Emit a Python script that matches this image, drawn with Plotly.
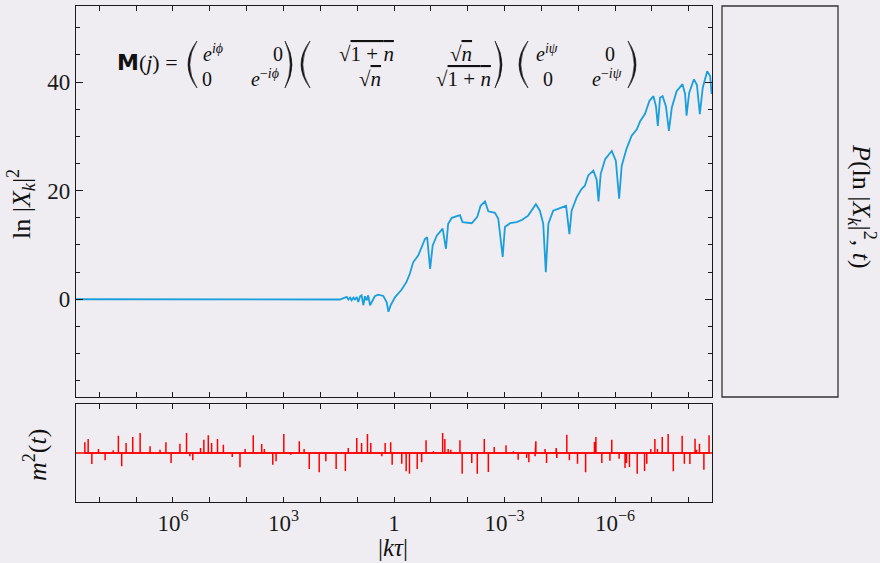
import numpy as np
import plotly.graph_objects as go

# ---------------- data ----------------
# log10 |k tau| and ln|X_k|^2 for the blue curve
blue_exp = [8.70, 2.55, 2.01, 1.60, 1.47,
            1.28, 1.24, 1.19, 1.15, 1.10,
            1.06, 1.01, 0.97, 0.92, 0.88,
            0.83, 0.79, 0.74, 0.70, 0.65,
            0.61, 0.52, 0.43, 0.29, 0.20,
            0.15, 0.09, -0.03, -0.21, -0.34,
            -0.43, -0.52, -0.66, -0.84, -0.90,
            -0.98, -1.05, -1.16, -1.32, -1.41,
            -1.47, -1.57, -1.79, -1.86, -2.11,
            -2.26, -2.35, -2.47, -2.56, -2.74,
            -2.83, -2.95, -3.01, -3.15, -3.33,
            -3.47, -3.64, -3.85, -3.96, -4.05,
            -4.12, -4.19, -4.32, -4.67, -4.76,
            -4.82, -4.96, -5.09, -5.18, -5.27,
            -5.41, -5.50, -5.55, -5.61, -5.73,
            -5.91, -6.02, -6.11, -6.18, -6.31,
            -6.45, -6.59, -6.68, -6.81, -6.93,
            -7.04, -7.11, -7.16, -7.22, -7.29,
            -7.38, -7.46, -7.54, -7.67, -7.83,
            -7.90, -7.94, -8.01, -8.14, -8.22,
            -8.30, -8.38, -8.50, -8.58, -8.62]
blue_val = [0, 0, 0, 0.05, -0.05,
            0.43, -0.06, 0.3, -0.2, 0.3,
            -0.06, 0.43, -0.5, 0.55, 0.73,
            -1.1, 0.55, -0.2, 0.73, -1.1,
            -0.5, 0.55, 0.85, 0.6, -0.5,
            -2.3, -1.1, 0.4, 1.8, 3.2,
            4.7, 6.8, 8.1, 11.1, 11.4,
            5.6, 9.9, 11.7, 13.0, 9.3,
            13.9, 15.0, 15.5, 14.2, 14.0,
            15.2, 17.2, 18.0, 16.2, 15.9,
            14.8, 7.8, 13.3, 14.0, 14.2,
            14.6, 15.4, 17.5, 16.3, 13.9,
            5.0, 13.9, 16.3, 17.2, 12.0,
            16.3, 18.8, 20.3, 20.9, 22.8,
            23.7, 22.0, 18.0, 23.1, 25.8,
            27.3, 25.5, 18.5, 24.6, 27.7,
            30.1, 31.3, 32.8, 34.1, 36.5,
            37.4, 35.5, 31.9, 37.1, 37.4,
            35.5, 31.0, 35.3, 38.3, 39.6,
            37.8, 33.8, 38.0, 40.5, 39.5,
            34.1, 39.0, 42.0, 41.1, 37.8]

# log10 |k tau| and amplitude of the red m^2(t) spikes
spike_exp = [8.39, 8.30, 8.20, 8.02, 7.84, 7.62, 7.48, 7.39, 7.27, 7.09,
             6.89, 6.62, 6.35, 6.19, 6.05, 5.81, 5.63, 5.54, 5.46, 5.25,
             5.16, 5.04, 4.95, 4.79, 4.63, 4.39, 4.18, 4.04, 3.82, 3.59,
             3.52, 3.29, 3.20, 2.99, 2.80, 2.57, 2.44, 2.30, 2.03, 1.85,
             1.57, 1.32, 1.24, 1.01, 0.88, 0.72, 0.63, 0.33, 0.24, 0.09,
             0.05, -0.21, -0.33, -0.42, -0.63, -0.75, -0.87, -1.07, -1.32, -1.38,
             -1.47, -1.54, -1.79, -1.85, -2.11, -2.26, -2.45, -2.56, -2.72, -3.04,
             -3.24, -3.37, -3.60, -3.66, -3.83, -3.85, -4.10, -4.14, -4.40, -4.42,
             -4.69, -4.76, -4.98, -5.20, -5.44, -5.48, -5.64, -5.86, -5.91, -6.11,
             -6.27, -6.31, -6.39, -6.60, -6.80, -6.86, -6.97, -7.08, -7.15, -7.28,
             -7.44, -7.58, -7.82, -7.88, -8.03, -8.17, -8.21, -8.29, -8.41, -8.55]
spike_amp = [0.32, 0.42, -0.33, 0.12, -0.22, 0.08, 0.52, -0.40, 0.30, 0.48,
             0.60, 0.20, 0.10, 0.32, -0.30, 0.28, 0.60, -0.10, -0.22, 0.15,
             0.40, 0.53, 0.30, 0.42, 0.25, -0.12, -0.43, 0.12, 0.53, 0.27,
             0.12, -0.35, -0.25, 0.57, -0.05, 0.35, 0.12, -0.48, -0.58, -0.25,
             -0.48, -0.54, 0.15, 0.45, 0.30, 0.57, 0.30, -0.10, 0.30, 0.32,
             -0.35, -0.32, -0.55, -0.62, -0.48, -0.28, 0.38, 0.05, 0.60, 0.42,
             0.12, 0.10, 0.38, -0.62, -0.30, -0.62, 0.42, -0.57, 0.18, 0.23,
             0.05, -0.20, -0.15, -0.28, -0.10, 0.35, 0.12, -0.30, 0.15, -0.15,
             0.55, -0.22, -0.32, -0.58, 0.33, 0.48, -0.30, -0.23, 0.40, -0.17,
             -0.45, -0.30, -0.42, -0.62, -0.54, -0.32, 0.12, 0.42, 0.12, 0.48,
             0.57, -0.55, 0.52, -0.32, -0.33, 0.43, 0.10, 0.28, -0.50, 0.53]

x_label_exps = [6, 3, 0, -3, -6]
x_labels = ["10<sup>6</sup>", "10<sup>3</sup>", "1", "10<sup>−3</sup>", "10<sup>−6</sup>"]
y_main_range = [-18, 54]
x_exp_range = [8.63, -8.63]

# ---------------- figure ----------------
W, H = 880, 563
def fx(p):
    return p / W
def fy(p):
    return 1 - p / H

BG = "#EFEDF1"
INK = "#1a1a1a"
SERIF = "Liberation Serif"

fig = go.Figure()

fig.add_trace(go.Scatter(
    x=np.power(10.0, blue_exp), y=blue_val, mode="lines",
    line=dict(color="#1A9FDC", width=1.8),
    xaxis="x", yaxis="y", showlegend=False, hoverinfo="skip"))

sx, sy = [], []
for e, a in zip(spike_exp, spike_amp):
    v = 10.0 ** e
    sx += [v, v, v]
    sy += [0, a, 0]
fig.add_trace(go.Scatter(
    x=sx, y=sy, mode="lines", line=dict(color="#FF0000", width=1.5),
    xaxis="x2", yaxis="y2", showlegend=False, hoverinfo="skip"))

tickvals = [10.0 ** k for k in x_label_exps]

frame = dict(showline=True, linecolor=INK, linewidth=1.3, showgrid=False,
             zeroline=False, tickcolor=INK, tickwidth=1)
decade_minor = dict(tickmode="linear", tick0=0, dtick=1, ticklen=5,
                    ticks="inside", tickcolor=INK, showgrid=False)

dom_x = [fx(76), fx(712)]
fig.update_layout(
    width=W, height=H, margin=dict(l=0, r=0, t=0, b=0),
    paper_bgcolor=BG, plot_bgcolor=BG, showlegend=False,
    xaxis=dict(type="log", range=x_exp_range, domain=dom_x, anchor="y",
               tickmode="array", tickvals=tickvals, ticktext=x_labels,
               showticklabels=False, ticks="inside", ticklen=5, mirror="ticks",
               minor=decade_minor, **frame),
    yaxis=dict(range=y_main_range, domain=[fy(397), fy(6)], anchor="x",
               tick0=0, dtick=20, ticks="inside", ticklen=7, mirror="ticks",
               minor=dict(dtick=5, ticklen=4, ticks="inside", tickcolor=INK),
               tickfont=dict(family=SERIF, size=23, color=INK), **frame),
    xaxis2=dict(type="log", range=x_exp_range, domain=dom_x, anchor="y2",
                tickmode="array", tickvals=tickvals, ticktext=x_labels,
                ticks="inside", ticklen=5, mirror="ticks", minor=decade_minor,
                tickfont=dict(family=SERIF, size=23, color=INK), **frame),
    yaxis2=dict(range=[-1.47, 1.47], domain=[fy(502), fy(404)], anchor="x2",
                showticklabels=False, ticks="", mirror=True, **frame),
)

# baseline of m^2(t) across the full panel
fig.add_shape(type="line", xref="x2 domain", x0=0, x1=1, yref="y2", y0=0, y1=0,
              line=dict(color="#FF0000", width=1.5))
# empty right-hand panel
fig.add_shape(type="rect", xref="paper", yref="paper",
              x0=fx(722), x1=fx(838), y0=fy(397), y1=fy(6),
              line=dict(color="#333333", width=1.3))

def ann(x, y, text, size=20, angle=0):
    fig.add_annotation(x=fx(x), y=fy(y), xref="paper", yref="paper", text=text,
                       showarrow=False, textangle=angle, xanchor="center",
                       yanchor="middle",
                       font=dict(family=SERIF, size=size, color="#111111"))

# axis titles
ann(21, 204, "ln |<i>X</i><sub><i>k</i></sub>|<sup>2</sup>", 26, -90)
ann(862, 206, "<i>P</i>(ln |<i>X</i><sub><i>k</i></sub>|<sup>2</sup>, <i>t</i>)", 26, 90)
ann(36, 455, "<i>m</i><sup>2</sup>(<i>t</i>)", 26, -90)
ann(393, 547, "|<i>kτ</i>|", 25)

# equation
ann(147, 63, "<span style='font-family:DejaVu Sans'><b>M</b></span>(<i>j</i>) =", 22)
ann(213, 53, "<i>e</i><sup><i>iϕ</i></sup>")
ann(278, 54, "0")
ann(207, 79, "0")
ann(265, 78, "<i>e</i><sup>−<i>iϕ</i></sup>")
sq1n = "√<span style='text-decoration:overline'>1 + <i>n</i></span>"
sqn = "√<span style='text-decoration:overline'><i>n</i></span>"
ann(366, 54, sq1n, 21)
ann(461, 54, sqn, 21)
ann(370, 79, sqn, 21)
ann(464, 79, sq1n, 21)
ann(547, 53, "<i>e</i><sup><i>iψ</i></sup>")
ann(610, 54, "0")
ann(548, 79, "0")
ann(607, 78, "<i>e</i><sup>−<i>iψ</i></sup>")

def paren(xo, xt, ytop=41, ybot=88, left=True):
    ym = (ytop + ybot) / 2
    d = 1.8 if left else -1.8
    c1 = 2 * xo - xt
    c2 = 2 * (xo + d) - xt
    path = (f"M {fx(xt)},{fy(ytop)} Q {fx(c1)},{fy(ym)} {fx(xt)},{fy(ybot)} "
            f"Q {fx(c2)},{fy(ym)} {fx(xt)},{fy(ytop)} Z")
    fig.add_shape(type="path", xref="paper", yref="paper", path=path,
                  fillcolor="#111111", line=dict(color="#111111", width=0.6))

paren(188, 197, left=True)
paren(292, 285, left=False)
paren(301, 310, left=True)
paren(502, 495, left=False)
paren(519, 528, left=True)
paren(636, 628, left=False)

fig.write_html("out.html", config={"displayModeBar": False},
               post_script="document.body.style.margin='0px';"
                           "document.body.style.overflow='hidden';")
